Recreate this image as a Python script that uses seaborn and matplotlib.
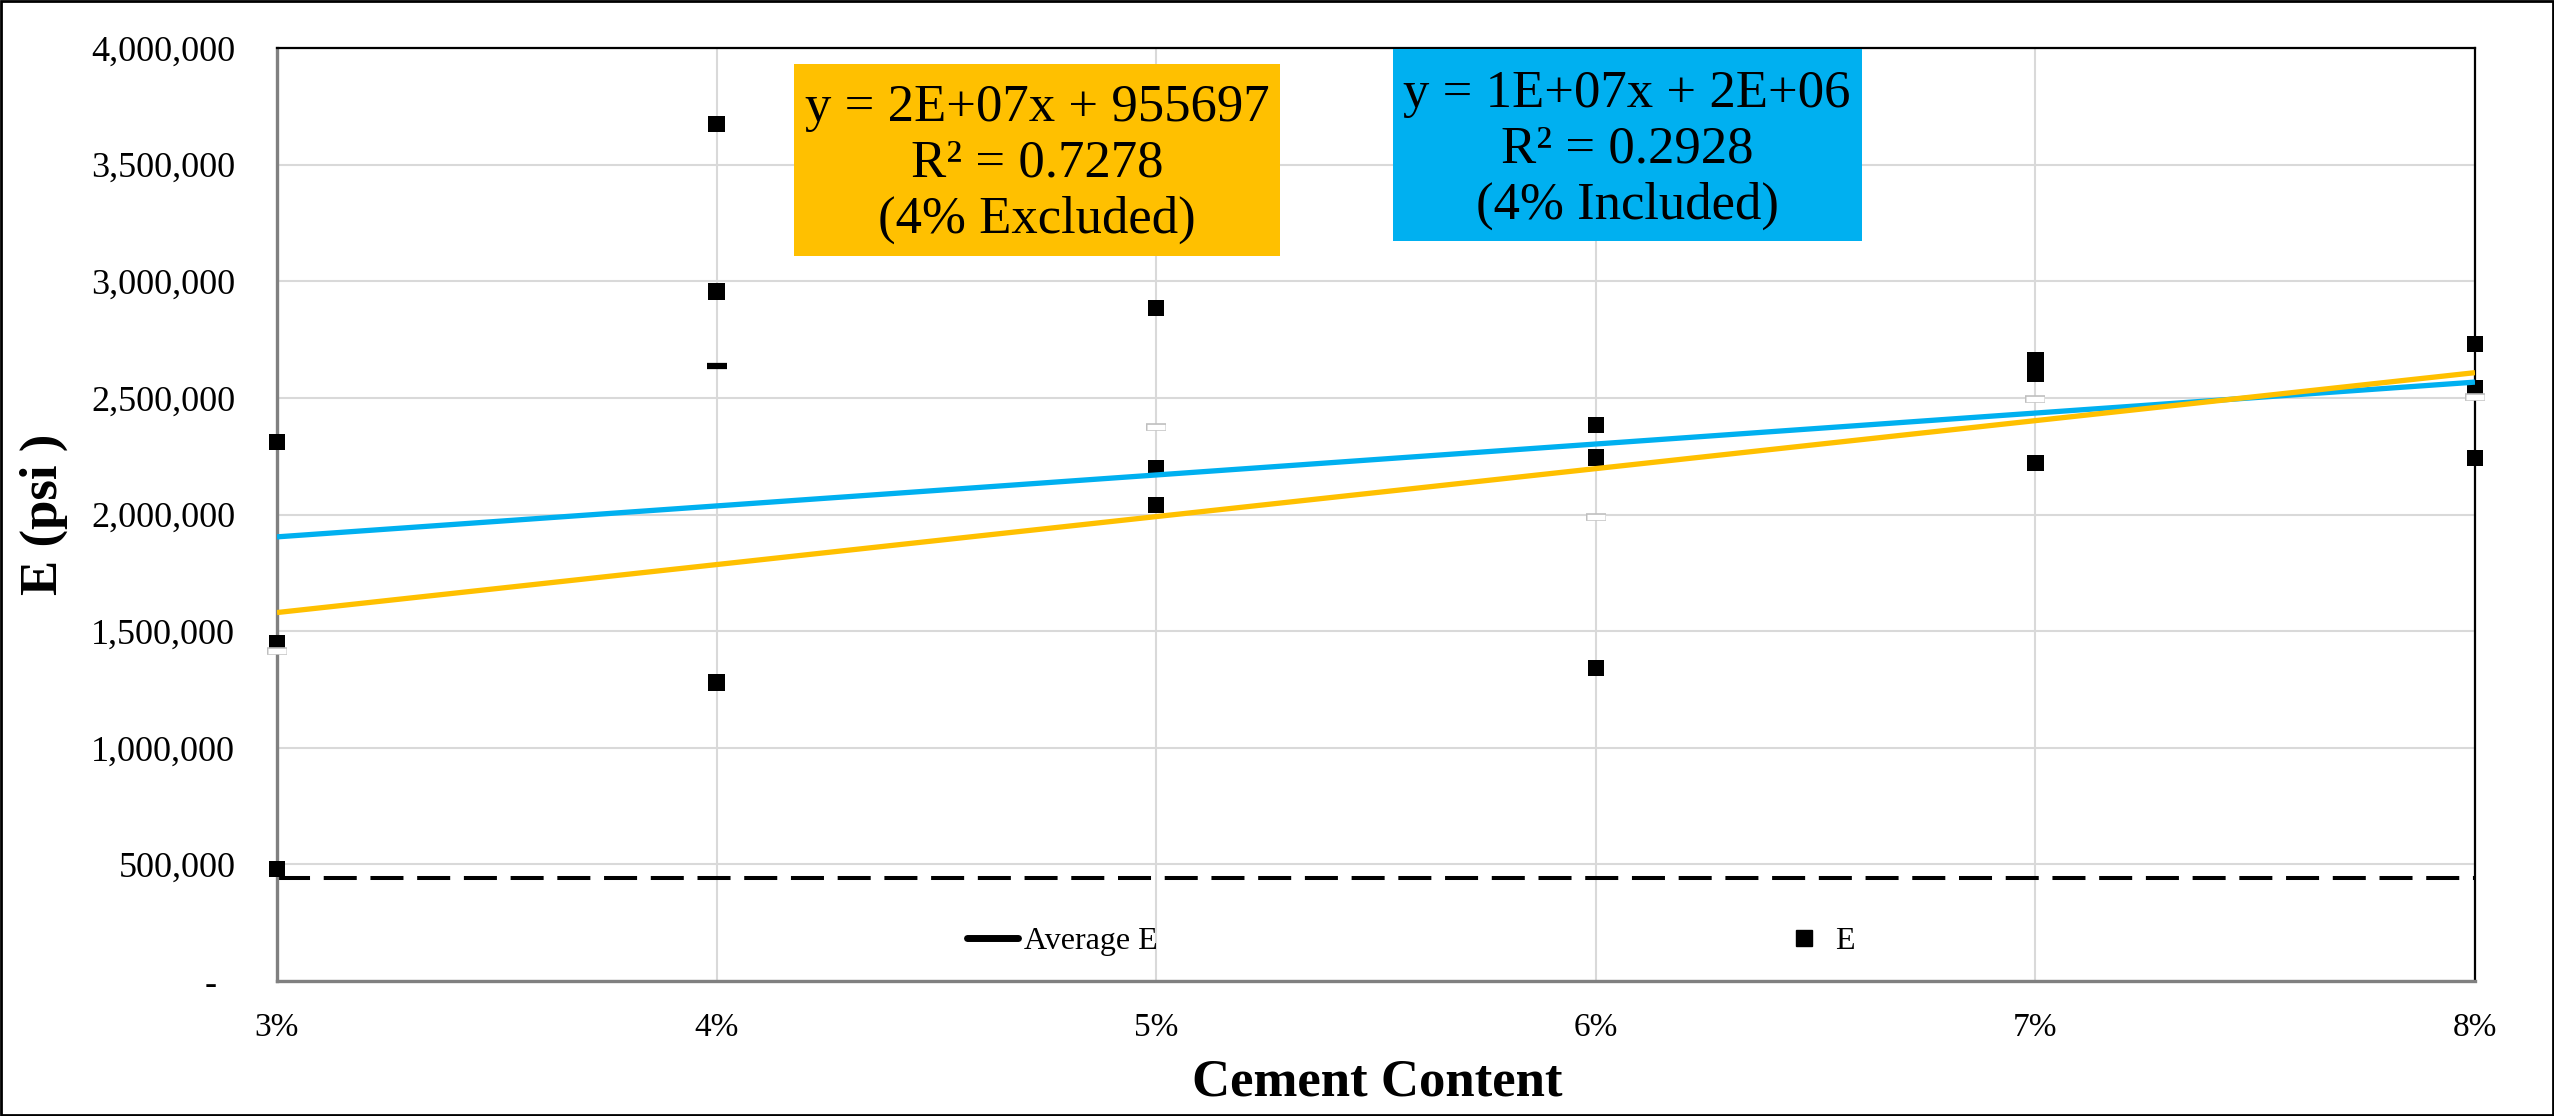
import numpy as np
import pandas as pd
import matplotlib
matplotlib.use("Agg")
import matplotlib.pyplot as plt
import seaborn as sns
from matplotlib.patches import Rectangle
from matplotlib.lines import Line2D
from matplotlib.ticker import FuncFormatter, MultipleLocator

# ---------------- data ----------------
cement_content = [0.03, 0.03, 0.03,
                  0.04, 0.04, 0.04,
                  0.05, 0.05, 0.05,
                  0.06, 0.06, 0.06,
                  0.07, 0.07, 0.07,
                  0.08, 0.08, 0.08]
e_values = [2310000, 1450000, 480000,
            3675000, 2956000, 1280000,
            2886000, 2200000, 2040000,
            2383000, 2244000, 1343000,
            2662000, 2602000, 2220000,
            2731000, 2540000, 2243000]
threshold_e = 440000
eq_excluded = "y = 2E+07x + 955697\nR\u00b2 = 0.7278\n(4% Excluded)"
eq_included = "y = 1E+07x + 2E+06\nR\u00b2 = 0.2928\n(4% Included)"
highlight_cc = 0.04

df = pd.DataFrame({"Cement": cement_content, "E": e_values})
avg = df.groupby("Cement", as_index=False)["E"].mean()

# ---------------- style ----------------
sns.set_theme(style="white")
plt.rcParams["font.family"] = ["Liberation Serif", "DejaVu Serif"]
plt.rcParams["text.color"] = "black"
plt.rcParams["axes.labelcolor"] = "black"
plt.rcParams["xtick.color"] = "black"
plt.rcParams["ytick.color"] = "black"

W, H = 2554, 1116
fig = plt.figure(figsize=(W / 100, H / 100), dpi=100)
fig.patch.set_facecolor("white")
L, R, T, B = 277, 2475, 48, 981
ax = fig.add_axes([L / W, 1 - B / H, (R - L) / W, (B - T) / H])

BLUE = "#00B0F0"
ORANGE = "#FFC000"

ax.set_xlim(0.03, 0.08)
ax.set_ylim(0, 4000000)
ax.xaxis.set_major_locator(MultipleLocator(0.01))
ax.yaxis.set_major_locator(MultipleLocator(500000))
ax.grid(True, color="#D9D9D9", lw=1.5, zorder=0)
ax.set_axisbelow(True)

# threshold dashed line
ax.axhline(threshold_e, color="black", lw=2.9, dashes=(8.2, 3.4), zorder=2)

# E points
sns.scatterplot(data=df, x="Cement", y="E", marker="s", s=140, color="black",
                edgecolor="none", ax=ax, zorder=3, legend=False, clip_on=False)

# trendlines (fit on averages)
xs = np.array([0.03, 0.08])
p_inc = np.polyfit(avg["Cement"], avg["E"], 1)
ex = avg[~np.isclose(avg["Cement"], highlight_cc)]
p_exc = np.polyfit(ex["Cement"], ex["E"], 1)
ax.plot(xs, np.polyval(p_inc, xs), color=BLUE, lw=3.8, zorder=4, solid_capstyle="butt")
ax.plot(xs, np.polyval(p_exc, xs), color=ORANGE, lw=3.8, zorder=4, solid_capstyle="butt")

# average markers
hl = np.isclose(avg["Cement"], highlight_cc)
ax.plot(avg["Cement"][~hl], avg["E"][~hl], ls="none", marker="_", ms=14,
        mew=5.5, color="#BFBFBF", zorder=5, clip_on=False)
ax.plot(avg["Cement"][~hl], avg["E"][~hl], ls="none", marker="_", ms=12.6,
        mew=3.8, color="white", zorder=6, clip_on=False)
ax.plot(avg["Cement"][hl], avg["E"][hl], ls="none", marker="_", ms=14,
        mew=4.5, color="black", zorder=6, solid_capstyle="round")

# spines
for s in ["left", "bottom"]:
    ax.spines[s].set_color("#808080")
    ax.spines[s].set_linewidth(2.4)
for s in ["top", "right"]:
    ax.spines[s].set_color("black")
    ax.spines[s].set_linewidth(1.6)

# ticks
ax.yaxis.set_major_formatter(FuncFormatter(lambda v, p: "-  " if v == 0 else f"{int(v):,}"))
ax.xaxis.set_major_formatter(FuncFormatter(lambda v, p: f"{v * 100:.0f}%"))
ax.tick_params(axis="y", length=0, pad=30, labelsize=26, labelcolor="black")
ax.tick_params(axis="x", length=0, pad=23, labelsize=24, labelcolor="black")

ax.set_xlabel("Cement Content", fontsize=38, fontweight="bold", color="black")
ax.set_ylabel("E (psi )", fontsize=38, fontweight="bold", color="black")
ax.xaxis.label.set_va("center")
ax.yaxis.label.set_va("center")
ax.xaxis.set_label_coords(0.5005, (B - 1083) / (B - T))
ax.yaxis.set_label_coords((44 - L) / (R - L), 0.5005)

# legend
handles = [Line2D([], [], color="black", lw=5, solid_capstyle="round"),
           Line2D([], [], ls="none", marker="s", ms=11, color="black")]
leg = ax.legend(handles, ["Average E", "E"], ncol=2, frameon=False,
                fontsize=23, handlelength=1.6, handletextpad=0.2,
                columnspacing=19.4, loc="center left", borderpad=0,
                borderaxespad=0, labelcolor="black",
                bbox_to_anchor=((967 - L) / (R - L), (B - 941) / (B - T)))

# equation boxes
def fig_box(x0, y0, x1, y1, color):
    fig.add_artist(Rectangle((x0 / W, 1 - y1 / H), (x1 - x0) / W, (y1 - y0) / H,
                             transform=fig.transFigure, facecolor=color,
                             edgecolor="none", zorder=8))

fig_box(794, 64, 1280, 256, ORANGE)
fig_box(1393, 49, 1862, 241, BLUE)
fig.text(1037 / W, 1 - 164 / H, eq_excluded, ha="center", va="center", color="black",
         fontsize=38, linespacing=1.2, multialignment="center", zorder=9)
fig.text(1627 / W, 1 - 150 / H, eq_included, ha="center", va="center", color="black",
         fontsize=38, linespacing=1.2, multialignment="center", zorder=9)

# figure border
fig.add_artist(Rectangle((0.0005, 0.001), 0.999, 0.998, transform=fig.transFigure,
                         fill=False, edgecolor="black", lw=2, zorder=10))

fig.savefig("out.png", dpi=100)
